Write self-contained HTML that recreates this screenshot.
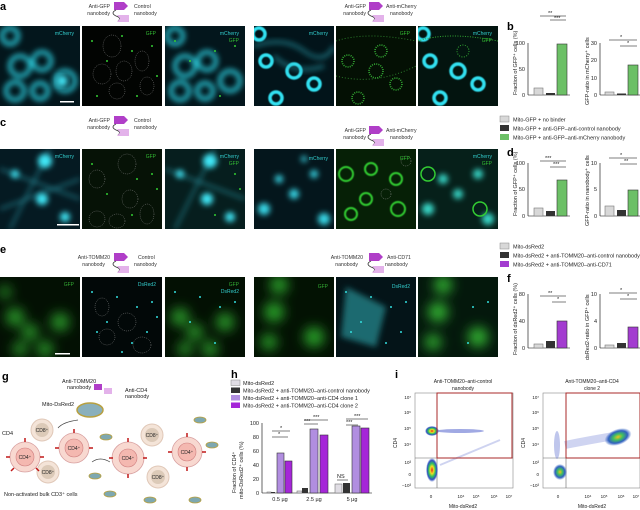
<!DOCTYPE html>
<html><head><meta charset="utf-8"><style>
html,body{margin:0;padding:0;background:#fff;}
svg{display:block;font-family:"Liberation Sans",sans-serif;}
</style></head><body>
<svg width="640" height="510" viewBox="0 0 640 510" xmlns="http://www.w3.org/2000/svg">
<defs>
<filter id="bl" x="-20%" y="-20%" width="140%" height="140%"><feGaussianBlur stdDeviation="3"/></filter>
<filter id="bl1"><feGaussianBlur stdDeviation="0.6"/></filter>
<filter id="bl6" x="-50%" y="-50%" width="200%" height="200%"><feGaussianBlur stdDeviation="6"/></filter>
<radialGradient id="dens1"><stop offset="0" stop-color="#e02020"/><stop offset="0.3" stop-color="#f0e020"/><stop offset="0.55" stop-color="#30c060"/><stop offset="0.8" stop-color="#3050c0"/><stop offset="1" stop-color="#3050c0" stop-opacity="0"/></radialGradient>
<radialGradient id="dens2"><stop offset="0" stop-color="#f0c020"/><stop offset="0.35" stop-color="#40c060"/><stop offset="0.7" stop-color="#3060c0"/><stop offset="1" stop-color="#3060c0" stop-opacity="0"/></radialGradient>
<g id="nb"><path d="M0,0 h10 l4,4 l-4,4 h-10 z" fill="#b03ec8"/><path d="M2,8 q-6,3 0,6 q6,2 2,5" stroke="#333" stroke-width="0.8" fill="none"/><path d="M3,13 h12 v7 h-12 l3,-3.5 z" fill="#e3b2ea"/></g>
<clipPath id="cp"><rect x="0" y="0" width="80" height="80"/></clipPath>
</defs>

<!-- panel letters -->
<g font-weight="bold" font-size="11" fill="#000">
<text x="0" y="10">a</text><text x="0" y="126">c</text><text x="0" y="253">e</text>
<text x="507" y="30">b</text><text x="507" y="156">d</text><text x="507" y="282">f</text>
<text x="2" y="380">g</text><text x="231" y="378">h</text><text x="395" y="378">i</text>
</g>

<!-- construct labels -->
<g font-size="5.2" fill="#333">
<text x="110" y="8" text-anchor="end">Anti-GFP</text><text x="110" y="15" text-anchor="end">nanobody</text>
<use href="#nb" x="114" y="2"/><text x="134" y="8">Control</text><text x="134" y="15">nanobody</text>
<text x="366" y="8" text-anchor="end">Anti-GFP</text><text x="366" y="15" text-anchor="end">nanobody</text>
<use href="#nb" x="369" y="2"/><text x="386" y="8">Anti-mCherry</text><text x="390" y="15">nanobody</text>
<text x="110" y="122" text-anchor="end">Anti-GFP</text><text x="110" y="129" text-anchor="end">nanobody</text>
<use href="#nb" x="114" y="116"/><text x="134" y="122">Control</text><text x="134" y="129">nanobody</text>
<text x="366" y="132" text-anchor="end">Anti-GFP</text><text x="366" y="139" text-anchor="end">nanobody</text>
<use href="#nb" x="369" y="126"/><text x="386" y="132">Anti-mCherry</text><text x="390" y="139">nanobody</text>
<text x="110" y="259" text-anchor="end">Anti-TOMM20</text><text x="105" y="266" text-anchor="end">nanobody</text>
<use href="#nb" x="114" y="253"/><text x="138" y="259">Control</text><text x="134" y="266">nanobody</text>
<text x="363" y="259" text-anchor="end">Anti-TOMM20</text><text x="358" y="266" text-anchor="end">nanobody</text>
<use href="#nb" x="369" y="253"/><text x="387" y="259">Anti-CD71</text><text x="385" y="266">nanobody</text>
</g>

<!-- IMAGE PANELS -->
<!-- row a -->
<g transform="translate(0,26)"><g clip-path="url(#cp)"><rect width="80" height="80" fill="#03161c"/>
<g filter="url(#bl)" fill="none" stroke="#2cc8d8" stroke-width="4"><circle cx="20" cy="40" r="10"/><circle cx="42" cy="35" r="9"/><circle cx="65" cy="55" r="10"/><circle cx="15" cy="65" r="9"/><circle cx="40" cy="65" r="8"/><circle cx="10" cy="10" r="8"/></g>
<circle cx="62" cy="55" r="6" fill="#40e0f0" filter="url(#bl)"/></g>
<text x="74" y="9" font-size="5" fill="#3cc" text-anchor="end">mCherry</text><rect x="60" y="75" width="14" height="1.5" fill="#fff"/></g>
<g transform="translate(82,26)"><g clip-path="url(#cp)"><rect width="81" height="80" fill="#020402"/>
<g fill="none" stroke="#888" stroke-width="0.5" stroke-dasharray="1,1"><ellipse cx="30" cy="20" rx="9" ry="11"/><ellipse cx="20" cy="48" rx="9" ry="10"/><ellipse cx="42" cy="45" rx="8" ry="10"/><ellipse cx="60" cy="35" rx="7" ry="10"/><ellipse cx="35" cy="65" rx="8" ry="8"/><ellipse cx="65" cy="60" rx="7" ry="9"/></g>
<g fill="#3c3"><circle cx="10" cy="15" r="1"/><circle cx="25" cy="35" r="1"/><circle cx="50" cy="25" r="1"/><circle cx="70" cy="20" r="1"/><circle cx="55" cy="70" r="1"/><circle cx="15" cy="70" r="1"/><circle cx="75" cy="50" r="1"/><circle cx="40" cy="10" r="1"/></g></g>
<text x="74" y="9" font-size="5" fill="#3b3" text-anchor="end">GFP</text></g>
<g transform="translate(165,26)"><g clip-path="url(#cp)"><rect width="80" height="80" fill="#03161c"/>
<g filter="url(#bl)" fill="none" stroke="#2cc8d8" stroke-width="4"><circle cx="20" cy="40" r="10"/><circle cx="42" cy="35" r="9"/><circle cx="65" cy="55" r="10"/><circle cx="15" cy="65" r="9"/><circle cx="40" cy="65" r="8"/><circle cx="10" cy="10" r="8"/></g>
<g fill="#3c3"><circle cx="10" cy="15" r="1"/><circle cx="25" cy="35" r="1"/><circle cx="50" cy="25" r="1"/><circle cx="70" cy="20" r="1"/><circle cx="55" cy="70" r="1"/></g></g>
<text x="74" y="9" font-size="5" fill="#3cc" text-anchor="end">mCherry</text><text x="74" y="16" font-size="5" fill="#3b3" text-anchor="end">GFP</text></g>

<g transform="translate(254,26)"><g clip-path="url(#cp)"><rect width="80" height="80" fill="#02141a"/>
<g filter="url(#bl1)" fill="none" stroke="#30e0f0" stroke-width="3.5"><circle cx="12" cy="35" r="6"/><circle cx="40" cy="45" r="7"/><circle cx="60" cy="58" r="6"/><circle cx="22" cy="72" r="6"/><circle cx="5" cy="8" r="6"/></g>
<g filter="url(#bl)" fill="none" stroke="#2aa8b8" stroke-width="2"><path d="M0,20 Q30,10 50,25 T80,20"/><path d="M20,30 Q40,50 70,40"/></g></g>
<text x="74" y="9" font-size="5" fill="#3cc" text-anchor="end">mCherry</text></g>
<g transform="translate(336,26)"><g clip-path="url(#cp)"><rect width="80" height="80" fill="#041004"/>
<g fill="none" stroke="#3a3" stroke-width="1.6" stroke-dasharray="1,1.2"><circle cx="12" cy="35" r="6"/><circle cx="40" cy="45" r="7"/><circle cx="60" cy="58" r="6"/><circle cx="22" cy="72" r="6"/><circle cx="45" cy="25" r="6"/></g>
<g fill="none" stroke="#2a7a2a" stroke-width="1" stroke-dasharray="1,2"><path d="M0,15 Q30,5 80,15"/><path d="M0,50 Q40,60 80,40"/></g></g>
<text x="74" y="9" font-size="5" fill="#3b3" text-anchor="end">GFP</text></g>
<g transform="translate(418,26)"><g clip-path="url(#cp)"><rect width="80" height="80" fill="#03140f"/>
<g filter="url(#bl1)" fill="none" stroke="#30e0f0" stroke-width="3.5"><circle cx="12" cy="35" r="6"/><circle cx="40" cy="45" r="7"/><circle cx="60" cy="58" r="6"/><circle cx="22" cy="72" r="6"/><circle cx="5" cy="8" r="6"/></g>
<g fill="none" stroke="#3a3" stroke-width="1" stroke-dasharray="1,1.5"><circle cx="45" cy="25" r="6"/><path d="M0,15 Q30,5 80,15"/></g></g>
<text x="74" y="9" font-size="5" fill="#3cc" text-anchor="end">mCherry</text><text x="74" y="16" font-size="5" fill="#3b3" text-anchor="end">GFP</text></g>

<!-- row c -->
<g transform="translate(0,149)"><g clip-path="url(#cp)"><rect width="80" height="80" fill="#051a22"/>
<g filter="url(#bl)" stroke="#2a9aa8" stroke-width="1.5" fill="none"><path d="M0,20 L80,50"/><path d="M10,80 L50,0"/><path d="M0,60 L80,30"/></g>
<g filter="url(#bl)" fill="#40e8f8"><circle cx="45" cy="12" r="7"/><circle cx="42" cy="50" r="6"/><circle cx="15" cy="25" r="4"/><circle cx="65" cy="68" r="5"/></g></g>
<text x="74" y="9" font-size="5" fill="#3cc" text-anchor="end">mCherry</text><rect x="57" y="75" width="22" height="1.5" fill="#fff"/></g>
<g transform="translate(82,149)"><g clip-path="url(#cp)"><rect width="81" height="80" fill="#061206"/>
<g fill="none" stroke="#888" stroke-width="0.5" stroke-dasharray="1,1"><ellipse cx="45" cy="15" rx="9" ry="10"/><ellipse cx="15" cy="30" rx="8" ry="9"/><ellipse cx="48" cy="50" rx="8" ry="9"/><ellipse cx="65" cy="65" rx="7" ry="10"/><ellipse cx="15" cy="70" rx="8" ry="8"/><ellipse cx="35" cy="72" rx="8" ry="7"/></g>
<g fill="#3c3"><circle cx="10" cy="15" r="1"/><circle cx="25" cy="45" r="1"/><circle cx="55" cy="30" r="1"/><circle cx="70" cy="25" r="1"/><circle cx="50" cy="66" r="1"/><circle cx="75" cy="40" r="1"/></g></g>
<text x="74" y="9" font-size="5" fill="#3b3" text-anchor="end">GFP</text></g>
<g transform="translate(165,149)"><g clip-path="url(#cp)"><rect width="80" height="80" fill="#061e1e"/>
<g filter="url(#bl)" stroke="#2a9aa8" stroke-width="1.5" fill="none"><path d="M0,20 L80,50"/><path d="M10,80 L50,0"/></g>
<g filter="url(#bl)" fill="#40e8f8"><circle cx="45" cy="12" r="7"/><circle cx="42" cy="50" r="6"/><circle cx="15" cy="25" r="4"/><circle cx="65" cy="68" r="5"/></g>
<g fill="#3c3"><circle cx="70" cy="25" r="1"/><circle cx="50" cy="66" r="1"/><circle cx="75" cy="40" r="1"/></g></g>
<text x="74" y="9" font-size="5" fill="#3cc" text-anchor="end">mCherry</text><text x="74" y="16" font-size="5" fill="#3b3" text-anchor="end">GFP</text></g>
<g transform="translate(254,149)"><g clip-path="url(#cp)"><rect width="80" height="80" fill="#04161c"/>
<g filter="url(#bl)" fill="#38d8e8"><circle cx="10" cy="60" r="6"/><circle cx="40" cy="45" r="5"/><circle cx="25" cy="30" r="4"/><circle cx="70" cy="70" r="6"/><circle cx="60" cy="25" r="4"/><circle cx="50" cy="10" r="3"/></g></g>
<text x="74" y="11" font-size="5" fill="#3cc" text-anchor="end">mCherry</text></g>
<g transform="translate(336,149)"><g clip-path="url(#cp)"><rect width="80" height="80" fill="#062006"/>
<g fill="none" stroke="#3c3" stroke-width="2" filter="url(#bl1)"><circle cx="10" cy="25" r="7"/><circle cx="35" cy="20" r="6"/><circle cx="60" cy="30" r="6"/><circle cx="30" cy="50" r="6"/><circle cx="62" cy="60" r="7"/><circle cx="15" cy="65" r="6"/></g>
<g fill="none" stroke="#999" stroke-width="0.5" stroke-dasharray="1,1"><circle cx="70" cy="12" r="5"/><circle cx="50" cy="45" r="5"/></g></g>
<text x="74" y="11" font-size="5" fill="#3b3" text-anchor="end">GFP</text></g>
<g transform="translate(418,149)"><g clip-path="url(#cp)"><rect width="80" height="80" fill="#06201a"/>
<g filter="url(#bl)" fill="#38d8c8"><circle cx="10" cy="60" r="6"/><circle cx="40" cy="45" r="5"/><circle cx="25" cy="30" r="5"/><circle cx="70" cy="70" r="6"/><circle cx="60" cy="25" r="5"/></g>
<g fill="none" stroke="#3c3" stroke-width="1.5"><circle cx="10" cy="25" r="7"/><circle cx="62" cy="60" r="7"/></g></g>
<text x="74" y="9" font-size="5" fill="#3cc" text-anchor="end">mCherry</text><text x="74" y="16" font-size="5" fill="#3b3" text-anchor="end">GFP</text></g>

<!-- row e -->
<g transform="translate(0,277)"><g clip-path="url(#cp)"><rect width="80" height="80" fill="#031003"/>
<g filter="url(#bl6)" fill="#2a9a2a"><circle cx="15" cy="40" r="9"/><circle cx="30" cy="55" r="8"/><circle cx="60" cy="45" r="9"/><circle cx="45" cy="72" r="8"/><circle cx="20" cy="72" r="7"/><circle cx="5" cy="15" r="6"/></g></g>
<text x="74" y="9" font-size="5" fill="#3a3" text-anchor="end">GFP</text><rect x="55" y="76" width="15" height="1.5" fill="#fff"/></g>
<g transform="translate(82,277)"><g clip-path="url(#cp)"><rect width="81" height="80" fill="#020808"/>
<g fill="none" stroke="#888" stroke-width="0.5" stroke-dasharray="1,1"><ellipse cx="20" cy="30" rx="7" ry="9"/><ellipse cx="45" cy="45" rx="9" ry="9"/><ellipse cx="25" cy="60" rx="8" ry="8"/><ellipse cx="60" cy="68" rx="9" ry="8"/></g>
<g fill="#3dd"><circle cx="10" cy="15" r="1"/><circle cx="25" cy="45" r="1"/><circle cx="55" cy="30" r="1"/><circle cx="70" cy="25" r="1"/><circle cx="50" cy="66" r="1"/><circle cx="75" cy="40" r="1"/><circle cx="35" cy="20" r="1"/><circle cx="15" cy="55" r="1"/><circle cx="65" cy="55" r="1"/><circle cx="40" cy="75" r="1"/></g></g>
<text x="74" y="9" font-size="5" fill="#3cc" text-anchor="end">DsRed2</text></g>
<g transform="translate(165,277)"><g clip-path="url(#cp)"><rect width="80" height="80" fill="#031003"/>
<g filter="url(#bl6)" fill="#2a9a2a"><circle cx="15" cy="40" r="9"/><circle cx="30" cy="55" r="8"/><circle cx="60" cy="45" r="9"/><circle cx="45" cy="72" r="8"/><circle cx="20" cy="72" r="7"/></g>
<g fill="#3dd"><circle cx="10" cy="15" r="1"/><circle cx="25" cy="45" r="1"/><circle cx="55" cy="30" r="1"/><circle cx="70" cy="25" r="1"/><circle cx="50" cy="66" r="1"/><circle cx="35" cy="20" r="1"/></g></g>
<text x="74" y="9" font-size="5" fill="#3a3" text-anchor="end">GFP</text><text x="74" y="16" font-size="5" fill="#3cc" text-anchor="end">DsRed2</text></g>
<g transform="translate(254,277)"><g clip-path="url(#cp)"><rect width="80" height="80" fill="#031203"/>
<g filter="url(#bl6)" fill="#2aa02a"><circle cx="25" cy="8" r="9"/><circle cx="20" cy="35" r="10"/><circle cx="15" cy="65" r="8"/><circle cx="60" cy="60" r="10"/></g></g>
<text x="74" y="11" font-size="5" fill="#3a3" text-anchor="end">GFP</text></g>
<g transform="translate(336,277)"><g clip-path="url(#cp)"><rect width="80" height="80" fill="#041418"/>
<g filter="url(#bl)" fill="#1a6a70"><path d="M10,10 L50,30 L40,70 L5,60 Z"/></g>
<g fill="#3dd"><circle cx="10" cy="15" r="1"/><circle cx="25" cy="45" r="1"/><circle cx="55" cy="30" r="1"/><circle cx="70" cy="25" r="1"/><circle cx="50" cy="66" r="1"/><circle cx="35" cy="20" r="1"/><circle cx="15" cy="55" r="1"/><circle cx="65" cy="55" r="1"/></g></g>
<text x="74" y="11" font-size="5" fill="#3cc" text-anchor="end">DsRed2</text></g>
<g transform="translate(418,277)"><g clip-path="url(#cp)"><rect width="80" height="80" fill="#04180c"/>
<g filter="url(#bl6)" fill="#30b030"><circle cx="25" cy="8" r="9"/><circle cx="20" cy="35" r="10"/><circle cx="15" cy="65" r="8"/><circle cx="60" cy="60" r="10"/></g>
<g fill="#3dd"><circle cx="55" cy="30" r="1"/><circle cx="70" cy="25" r="1"/><circle cx="50" cy="66" r="1"/></g></g></g>

<!-- LEGENDS -->
<g font-size="5.5" fill="#222">
<rect x="500" y="116" width="9" height="6" fill="#d8d8d8" stroke="#888" stroke-width="0.5"/><text x="513" y="121.5">Mito-GFP + no binder</text>
<rect x="500" y="125" width="9" height="6" fill="#333"/><text x="513" y="130.5">Mito-GFP + anti-GFP–anti-control nanobody</text>
<rect x="500" y="134" width="9" height="6" fill="#6cc066"/><text x="513" y="139.5">Mito-GFP + anti-GFP–anti-mCherry nanobody</text>
<rect x="500" y="243" width="9" height="6" fill="#d8d8d8" stroke="#888" stroke-width="0.5"/><text x="513" y="248.5">Mito-dsRed2</text>
<rect x="500" y="252" width="9" height="6" fill="#333"/><text x="513" y="257.5">Mito-dsRed2 + anti-TOMM20–anti-control nanobody</text>
<rect x="500" y="261" width="9" height="6" fill="#a33cd0"/><text x="513" y="266.5">Mito-dsRed2 + anti-TOMM20–anti-CD71</text>
<rect x="231" y="380" width="9" height="5.5" fill="#e0dde4" stroke="#888" stroke-width="0.5"/><text x="243" y="385">Mito-dsRed2</text>
<rect x="231" y="387.5" width="9" height="5.5" fill="#333"/><text x="243" y="392.5">Mito-dsRed2 + anti-TOMM20–anti-control nanobody</text>
<rect x="231" y="395" width="9" height="5.5" fill="#b18ee0"/><text x="243" y="400">Mito-dsRed2 + anti-TOMM20–anti-CD4 clone 1</text>
<rect x="231" y="402.5" width="9" height="5.5" fill="#a526d8"/><text x="243" y="407.5">Mito-dsRed2 + anti-TOMM20–anti-CD4 clone 2</text>
</g>

<!-- BAR CHARTS b d f -->
<g font-size="5.5" fill="#222" stroke-width="0.6">
<!-- b left -->
<line x1="528" y1="43" x2="528" y2="95" stroke="#000"/><line x1="528" y1="95" x2="570" y2="95" stroke="#000"/>
<text x="525" y="45" text-anchor="end">100</text><text x="525" y="71" text-anchor="end">50</text><text x="525" y="97" text-anchor="end">0</text>
<rect x="534" y="88" width="9" height="7" fill="#d8d8d8" stroke="#777"/><rect x="546" y="93" width="9" height="2" fill="#333"/><rect x="557" y="44" width="10" height="51" fill="#6cc066" stroke="#333"/>
<path d="M540,16 H566 M550,20 H566" stroke="#000"/><text x="548" y="15">**</text><text x="554" y="20">***</text>
<text transform="translate(517,95) rotate(-90)">Fraction of GFP⁺ cells (%)</text>
<!-- b right -->
<line x1="600" y1="43" x2="600" y2="95" stroke="#000"/><line x1="600" y1="95" x2="640" y2="95" stroke="#000"/>
<text x="597" y="45" text-anchor="end">30</text><text x="597" y="62" text-anchor="end">20</text><text x="597" y="80" text-anchor="end">10</text><text x="597" y="97" text-anchor="end">0</text>
<rect x="605" y="92" width="9" height="3" fill="#d8d8d8" stroke="#777"/><rect x="617" y="93.5" width="9" height="1.5" fill="#333"/><rect x="628" y="65" width="10" height="30" fill="#6cc066" stroke="#333"/>
<path d="M609,40 H637 M620,46 H637" stroke="#000"/><text x="620" y="39">*</text><text x="627" y="45">*</text>
<text transform="translate(589,105) rotate(-90)">GFP-ratio in mCherry⁺ cells</text>
<!-- d left -->
<line x1="528" y1="163" x2="528" y2="216" stroke="#000"/><line x1="528" y1="216" x2="570" y2="216" stroke="#000"/>
<text x="525" y="165" text-anchor="end">100</text><text x="525" y="191" text-anchor="end">50</text><text x="525" y="218" text-anchor="end">0</text>
<rect x="534" y="208" width="9" height="8" fill="#d8d8d8" stroke="#777"/><rect x="546" y="211" width="9" height="5" fill="#333"/><rect x="557" y="180" width="10" height="36" fill="#6cc066" stroke="#333"/>
<path d="M540,161 H566 M550,167 H566" stroke="#000"/><text x="545" y="160">***</text><text x="553" y="166">***</text>
<text transform="translate(517,216) rotate(-90)">Fraction of GFP⁺ cells (%)</text>
<!-- d right -->
<line x1="600" y1="163" x2="600" y2="216" stroke="#000"/><line x1="600" y1="216" x2="640" y2="216" stroke="#000"/>
<text x="597" y="165" text-anchor="end">10</text><text x="597" y="191" text-anchor="end">5</text><text x="597" y="218" text-anchor="end">0</text>
<rect x="605" y="206" width="9" height="10" fill="#d8d8d8" stroke="#777"/><rect x="617" y="210" width="9" height="6" fill="#333"/><rect x="628" y="190" width="10" height="26" fill="#6cc066" stroke="#333"/>
<path d="M609,158 H637 M620,164 H637" stroke="#000"/><text x="620" y="157">*</text><text x="624" y="163">**</text>
<text transform="translate(589,226) rotate(-90)">GFP-ratio in nanobody⁺ cells</text>
<!-- f left -->
<line x1="528" y1="294" x2="528" y2="348" stroke="#000"/><line x1="528" y1="348" x2="570" y2="348" stroke="#000"/>
<text x="525" y="296" text-anchor="end">80</text><text x="525" y="323" text-anchor="end">40</text><text x="525" y="350" text-anchor="end">0</text>
<rect x="534" y="344" width="9" height="4" fill="#d8d8d8" stroke="#777"/><rect x="546" y="341" width="9" height="7" fill="#333"/><rect x="557" y="321" width="10" height="27" fill="#a33cd0" stroke="#333"/>
<path d="M540,296 H566 M552,302 H566" stroke="#000"/><text x="548" y="295">**</text><text x="557" y="301">*</text>
<text transform="translate(517,355) rotate(-90)">Fraction of dsRed2⁺ cells (%)</text>
<!-- f right -->
<line x1="600" y1="294" x2="600" y2="348" stroke="#000"/><line x1="600" y1="348" x2="640" y2="348" stroke="#000"/>
<text x="597" y="296" text-anchor="end">10</text><text x="597" y="323" text-anchor="end">4</text><text x="597" y="350" text-anchor="end">0</text>
<rect x="605" y="345" width="9" height="3" fill="#d8d8d8" stroke="#777"/><rect x="617" y="343" width="9" height="5" fill="#333"/><rect x="628" y="327" width="10" height="21" fill="#a33cd0" stroke="#333"/>
<path d="M609,293 H637 M620,299 H637" stroke="#000"/><text x="620" y="292">*</text><text x="627" y="298">*</text>
<text transform="translate(589,360) rotate(-90)">dsRed2-ratio in GFP⁺ cells</text>
</g>

<!-- g cartoon -->
<g font-size="5.5" fill="#222">
<text x="62" y="383">Anti-TOMM20</text><text x="67" y="389">nanobody</text>
<text x="125" y="392">Anti-CD4</text><text x="125" y="398">nanobody</text>
<text x="42" y="406">Mito-DsRed2</text>
<text x="2" y="435">CD4</text>
<rect x="94" y="384" width="8" height="6" fill="#b03ec8"/><rect x="104" y="388" width="8" height="6" fill="#e3b2ea"/>
<ellipse cx="90" cy="410" rx="13" ry="7" fill="#8ab0bc" stroke="#b8a040" stroke-width="1.5"/>
<g fill="#f8d8d0" stroke="#d8a0a0" stroke-width="0.8">
<circle cx="25" cy="457" r="15"/><circle cx="74" cy="448" r="15"/><circle cx="128" cy="458" r="16"/><circle cx="187" cy="452" r="15"/></g>
<g fill="#f4b8b0" stroke="#d08080" stroke-width="0.6"><circle cx="25" cy="457" r="9"/><circle cx="74" cy="448" r="9"/><circle cx="128" cy="458" r="9"/><circle cx="187" cy="452" r="9"/></g>
<g fill="#f4e4d8" stroke="#e0c8b8"><circle cx="42" cy="430" r="11"/><circle cx="48" cy="472" r="11"/><circle cx="152" cy="435" r="11"/><circle cx="158" cy="477" r="11"/></g>
<g fill="#dccab8"><circle cx="42" cy="430" r="7"/><circle cx="48" cy="472" r="7"/><circle cx="152" cy="435" r="7"/><circle cx="158" cy="477" r="7"/></g>
<g font-size="5" text-anchor="middle"><text x="25" y="459">CD4⁺</text><text x="74" y="450">CD4⁺</text><text x="128" y="460">CD4⁺</text><text x="187" y="454">CD4⁺</text>
<text x="42" y="432">CD8⁺</text><text x="48" y="474">CD8⁺</text><text x="152" y="437">CD8⁺</text><text x="158" y="479">CD8⁺</text></g>
<g stroke="#c01818" stroke-width="1.5"><path d="M25,442 v-4 M10,457 h-4 M40,457 h4 M14,468 l-3,3 M36,468 l3,3 M74,433 v-4 M59,448 h-4 M89,448 h4 M113,458 h-4 M143,458 h4 M128,442 v-4 M128,474 v4 M187,437 v-4 M172,452 h-4 M202,452 h4 M187,467 v4"/></g>
<g fill="#7ea8b0" stroke="#b8a040" stroke-width="0.8"><ellipse cx="106" cy="437" rx="6" ry="3"/><ellipse cx="95" cy="476" rx="6" ry="3"/><ellipse cx="110" cy="494" rx="6" ry="3"/><ellipse cx="150" cy="500" rx="6" ry="3"/><ellipse cx="200" cy="420" rx="6" ry="3"/><ellipse cx="212" cy="445" rx="6" ry="3"/><ellipse cx="195" cy="500" rx="6" ry="3"/></g>
<path d="M78,420 q-15,2 -20,8 M92,462 q8,-6 18,0" stroke="#444" fill="none" stroke-width="0.7"/>
<text x="4" y="496">Non-activated bulk CD3⁺ cells</text>
</g>

<!-- h chart -->
<g font-size="5.5" fill="#222" stroke-width="0.6">
<line x1="262" y1="423" x2="262" y2="493" stroke="#000"/><line x1="262" y1="493" x2="372" y2="493" stroke="#000"/>
<text x="259" y="425" text-anchor="end">100</text><text x="259" y="439" text-anchor="end">80</text><text x="259" y="453" text-anchor="end">60</text><text x="259" y="467" text-anchor="end">40</text><text x="259" y="481" text-anchor="end">20</text><text x="259" y="495" text-anchor="end">0</text>
<rect x="267" y="492" width="4" height="1" fill="#e0dde4" stroke="#777"/><rect x="271" y="492" width="4" height="1" fill="#333"/>
<rect x="277" y="453" width="7" height="40" fill="#b18ee0" stroke="#333"/><rect x="285" y="461" width="7" height="32" fill="#a526d8" stroke="#333"/>
<rect x="297" y="491" width="5" height="2" fill="#e0dde4" stroke="#777"/><rect x="302" y="488" width="6" height="5" fill="#333"/>
<rect x="310" y="429" width="8" height="64" fill="#b18ee0" stroke="#333"/><rect x="320" y="435" width="8" height="58" fill="#a526d8" stroke="#333"/>
<rect x="335" y="484" width="7" height="9" fill="#e0dde4" stroke="#777"/><rect x="343" y="483" width="7" height="10" fill="#333"/>
<rect x="352" y="426" width="8" height="67" fill="#b18ee0" stroke="#333"/><rect x="361" y="428" width="8" height="65" fill="#a526d8" stroke="#333"/>
<path d="M272,437 H288 M272,431 H290 M304,424 H318 M304,420 H328 M346,425 H358 M346,419 H368 M337,480 H348" stroke="#000"/>
<text x="278" y="436">*</text><text x="280" y="430">*</text><text x="304" y="423">***</text><text x="313" y="419">***</text><text x="346" y="424">***</text><text x="354" y="418">***</text><text x="337" y="478">NS</text>
<text x="280" y="501" text-anchor="middle">0.5 µg</text><text x="314" y="501" text-anchor="middle">2.5 µg</text><text x="352" y="501" text-anchor="middle">5 µg</text>
<text transform="translate(236,493) rotate(-90)">Fraction of CD4⁺</text>
<text transform="translate(243,499) rotate(-90)">mito-DsRed2⁺ cells (%)</text>
</g>

<!-- i flow plots -->
<g font-size="5" fill="#222">
<text x="463" y="383" text-anchor="middle">Anti-TOMM20–anti-control</text><text x="463" y="390" text-anchor="middle">nanobody</text>
<text x="592" y="383" text-anchor="middle">Anti-TOMM20–anti-CD4</text><text x="592" y="390" text-anchor="middle">clone 2</text>
<rect x="415" y="393" width="98" height="95" fill="none" stroke="#888" stroke-width="0.6"/>
<line x1="437" y1="393" x2="437" y2="488" stroke="#666" stroke-width="0.6"/><line x1="415" y1="458" x2="513" y2="458" stroke="#666" stroke-width="0.6"/>
<ellipse cx="432" cy="470" rx="6" ry="12" fill="url(#dens1)"/>
<ellipse cx="432" cy="431" rx="7" ry="5" fill="url(#dens1)"/>
<ellipse cx="460" cy="431" rx="24" ry="2" fill="#6070d0" opacity="0.6"/>
<path d="M440,465 L500,440" stroke="#6070d0" stroke-width="2" opacity="0.3"/>
<rect x="437" y="393" width="75" height="65" fill="none" stroke="#a82828" stroke-width="1"/>
<rect x="543" y="393" width="97" height="95" fill="none" stroke="#888" stroke-width="0.6"/>
<line x1="566" y1="393" x2="566" y2="488" stroke="#666" stroke-width="0.6"/><line x1="543" y1="458" x2="640" y2="458" stroke="#666" stroke-width="0.6"/>
<ellipse cx="560" cy="472" rx="7" ry="8" fill="url(#dens2)"/>
<ellipse cx="557" cy="445" rx="3" ry="14" fill="#6070d0" opacity="0.4"/>
<path d="M565,445 Q590,440 620,435" stroke="#6070d0" stroke-width="8" opacity="0.3" fill="none"/>
<ellipse cx="618" cy="437" rx="14" ry="8" transform="rotate(-20 618 437)" fill="url(#dens2)"/>
<rect x="566" y="393" width="74" height="65" fill="none" stroke="#a82828" stroke-width="1"/>
<g text-anchor="end" font-size="4.5"><text x="411" y="399">10⁷</text><text x="411" y="414">10⁶</text><text x="411" y="430">10⁵</text><text x="411" y="446">10⁴</text><text x="411" y="464">10³</text><text x="411" y="476">0</text><text x="411" y="487">−10³</text>
<text x="539" y="399">10⁷</text><text x="539" y="414">10⁶</text><text x="539" y="430">10⁵</text><text x="539" y="446">10⁴</text><text x="539" y="464">10³</text><text x="539" y="476">0</text><text x="539" y="487">−10³</text></g>
<g text-anchor="middle" font-size="4.5"><text x="431" y="498">0</text><text x="461" y="498">10⁴</text><text x="476" y="498">10⁵</text><text x="494" y="498">10⁶</text><text x="509" y="498">10⁷</text>
<text x="558" y="498">0</text><text x="588" y="498">10⁴</text><text x="604" y="498">10⁵</text><text x="621" y="498">10⁶</text><text x="636" y="498">10⁷</text></g>
<text x="463" y="508" text-anchor="middle">Mito-dsRed2</text><text x="592" y="508" text-anchor="middle">Mito-dsRed2</text>
<text transform="translate(397,448) rotate(-90)">CD4</text><text transform="translate(525,448) rotate(-90)">CD4</text>
</g>
</svg>
</body></html>
